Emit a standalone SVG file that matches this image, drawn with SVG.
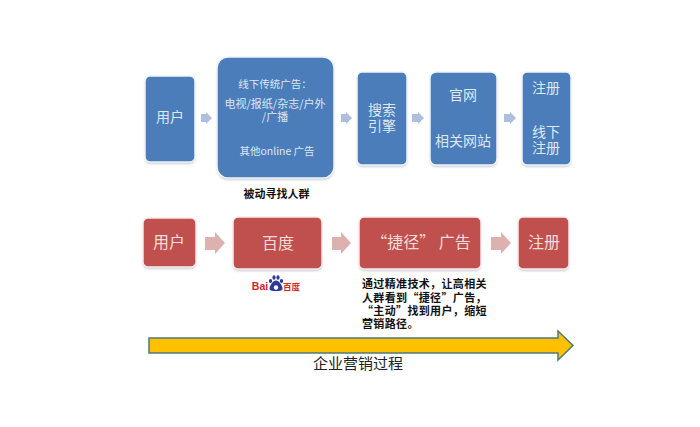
<svg xmlns="http://www.w3.org/2000/svg" width="700" height="427" viewBox="0 0 700 427">
<defs>
<filter id="soft" x="-15%" y="-15%" width="130%" height="130%"><feGaussianBlur stdDeviation="1.2"/></filter>
</defs>
<style>
text{font-family:"Noto Sans CJK SC","Noto Sans",sans-serif;text-anchor:middle}
.b{fill:#4a7db9;stroke:#f1f4f8;stroke-width:1.500}
.r{fill:#c0504d;stroke:#f7ecec;stroke-width:1.500}
.s{fill:#c9ced6;filter:url(#soft)}
.w{fill:#dfe7f1}
.wr{fill:#f3dcda}
.k{fill:#111;font-weight:700;font-size:11px}
.l{text-anchor:start}
.ab{fill:#adbfdc}
.ar{fill:#dcb1af}
</style>
<rect width="700" height="427" fill="#fff"/>
<g id="connectors">
<path class="ab" d="M201 114h5v-2l6 6-6 6v-2h-5z"/>
<path class="ab" d="M341 114h5v-2l6 6-6 6v-2h-5z"/>
<path class="ab" d="M412 114h6v-2l6 6-6 6v-2h-6z"/>
<path class="ab" d="M504 114h6v-2l6 6-6 6v-2h-6z"/>
<path class="ar" d="M205 237h10v-5l10 11-10 11v-4h-10z"/>
<path class="ar" d="M332 237h9v-5l10 11-10 11v-4h-9z"/>
<path class="ar" d="M491 237h10v-5l10 11-10 11v-4h-10z"/>
</g>
<g id="n-user-blue"><rect class="s" x="145" y="77" width="50" height="87" rx="5"/><rect class="b" x="145" y="76" width="50" height="86" rx="5"/><text class="w" x="170" y="122" font-size="14">用户</text></g>
<g id="n-offline"><rect class="s" x="217" y="58" width="117" height="122" rx="11"/><rect class="b" x="217" y="57" width="117" height="121" rx="11"/>
<text class="w" font-size="11"><tspan x="275" y="88" font-size="10.500">线下传统广告：</tspan><tspan x="275" y="108">电视/报纸/杂志/户外</tspan><tspan x="275" y="121">/广播</tspan><tspan x="277" y="155" font-size="10.500">其他online 广告</tspan></text></g>
<g id="n-search"><rect class="s" x="357" y="73" width="50" height="94" rx="5"/><rect class="b" x="357" y="72" width="50" height="93" rx="5"/><text class="w" font-size="14"><tspan x="382" y="115">搜索</tspan><tspan x="382" y="131">引擎</tspan></text></g>
<g id="n-site"><rect class="s" x="430" y="73" width="67" height="94" rx="6"/><rect class="b" x="430" y="72" width="67" height="93" rx="6"/><text class="w" font-size="14"><tspan x="463" y="100">官网</tspan><tspan x="463" y="146">相关网站</tspan></text></g>
<g id="n-reg-blue"><rect class="s" x="522" y="73" width="49" height="94" rx="5"/><rect class="b" x="522" y="72" width="49" height="93" rx="5"/><text class="w" font-size="14"><tspan x="546" y="93">注册</tspan><tspan x="546" y="137">线下</tspan><tspan x="546" y="153">注册</tspan></text></g>
<text id="t-passive" class="k" x="276.500" y="198">被动寻找人群</text>
<g id="n-user-red"><rect class="s" x="143" y="219" width="53" height="50" rx="5"/><rect class="r" x="143" y="218" width="53" height="49" rx="5"/><text class="wr" x="169" y="248" font-size="16">用户</text></g>
<g id="n-baidu"><rect class="s" x="233" y="218" width="89" height="53" rx="5"/><rect class="r" x="233" y="217" width="89" height="52" rx="5"/><text class="wr" x="278" y="249" font-size="16">百度</text></g>
<g id="n-ad"><rect class="s" x="359" y="218" width="122" height="53" rx="5"/><rect class="r" x="359" y="217" width="122" height="52" rx="5"/><text class="wr" x="421" y="248" font-size="16">“捷径” 广告</text></g>
<g id="n-reg-red"><rect class="s" x="518" y="218" width="51" height="53" rx="5"/><rect class="r" x="518" y="217" width="51" height="52" rx="5"/><text class="wr" x="544" y="248" font-size="16">注册</text></g>
<g id="baidu-logo">
<text x="260" y="290" font-size="10.500" font-weight="700" fill="#d2232a" style="font-family:'Liberation Sans',sans-serif">Bai</text>
<g fill="#2b3a9c"><ellipse cx="270.500" cy="281" rx="1.700" ry="2"/><ellipse cx="274" cy="277.500" rx="1.600" ry="2.200"/><ellipse cx="278" cy="277.500" rx="1.600" ry="2.200"/><ellipse cx="281.500" cy="281" rx="1.700" ry="2"/><path d="M276 280.500c3 0 6.500 5 6.500 8 0 2-2 2.500-6.500 2.500s-6.500-.5-6.500-2.500c0-3 3.500-8 6.500-8z"/></g>
<circle cx="276" cy="287.500" r="2.200" fill="#fff"/>
<text x="291.500" y="290" font-size="8.500" font-weight="700" fill="#d2232a">百度</text>
</g>
<text id="t-desc" class="k l" letter-spacing="0.350"><tspan x="362" y="288">通过精准技术，让高相关</tspan><tspan x="362" y="302">人群看到“捷径”广告，</tspan><tspan x="362" y="315">“主动”找到用户，缩短</tspan><tspan x="362" y="328">营销路径。</tspan></text>
<g id="n-process"><path d="M149 338H558V331L573 345.500 558 360V353H149z" fill="#ffc000" stroke="#4f7a7a" stroke-width="1.500"/></g>
<text id="t-process" x="358" y="369" font-size="15" fill="#222">企业营销过程</text>
</svg>
